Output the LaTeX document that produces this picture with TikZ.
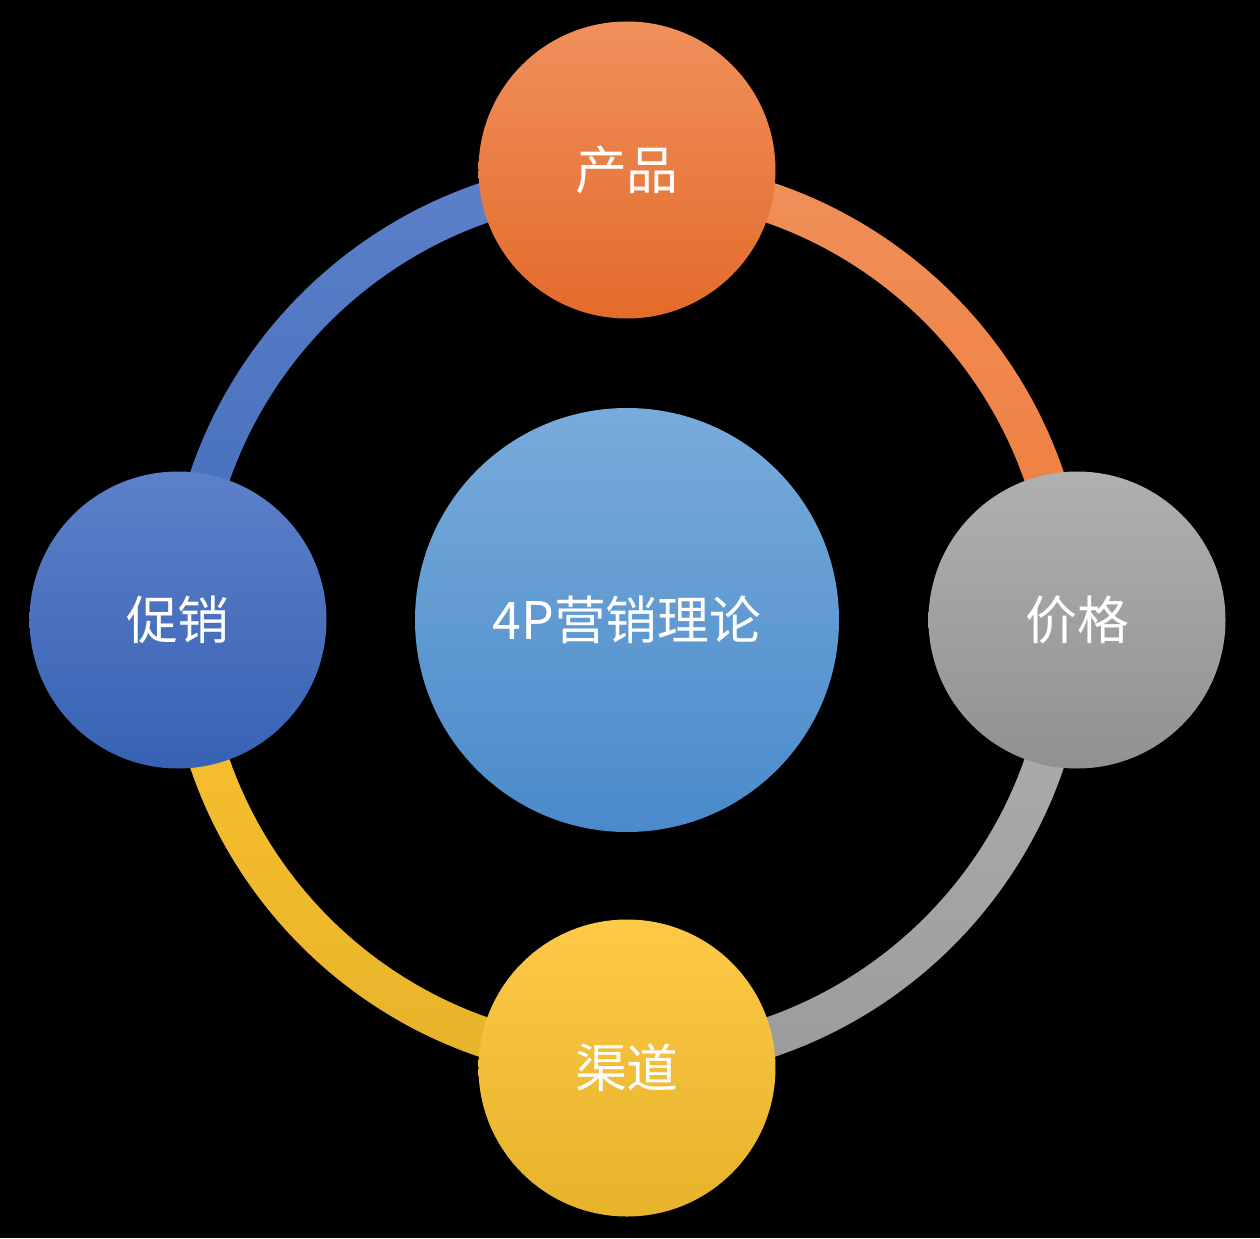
\documentclass[tikz,border=0pt]{standalone}
\usepackage{fontspec}
\setmainfont{Noto Sans CJK SC}
\definecolor{orangeA}{HTML}{F0905C}
\definecolor{orangeM}{HTML}{EF7B38}
\definecolor{orangeB}{HTML}{E36B2B}
\definecolor{blueA}{HTML}{78ABDB}
\definecolor{blueB}{HTML}{4A8ACA}
\definecolor{navyA}{HTML}{5D80C9}
\definecolor{navyM}{HTML}{4472C4}
\definecolor{navyB}{HTML}{3762B4}
\definecolor{greyA}{HTML}{B0B0B0}
\definecolor{greyB}{HTML}{919191}
\definecolor{goldA}{HTML}{FEC947}
\definecolor{goldM}{HTML}{FCC22E}
\definecolor{goldB}{HTML}{E6B32A}
\tikzset{
  petal/.style={
    circle,
    minimum size=5.94cm,
    inner sep=0mm,
    outer sep=0mm,
    text=white,
    font=\fontsize{29.5}{36}\selectfont
  },
  hub/.style={
    petal,
    minimum size=8.48cm
  },
  band/.style={
    draw=none
  }
}
\begin{document}
\begin{tikzpicture}
    \useasboundingbox[fill=black] (-12.54,-12.36) rectangle (12.66,12.4);
    % ring
    \shade[band,top color=orangeA,bottom color=orangeM] (0:9.22) arc (0:90:9.22) -- (90:8.42) arc (90:0:8.42) -- cycle;
    \shade[band,top color=greyA,bottom color=greyA!88!black] (270:9.22) arc (270:360:9.22) -- (0:8.42) arc (360:270:8.42) -- cycle;
    \shade[band,top color=goldM,bottom color=goldB] (180:9.22) arc (180:270:9.22) -- (270:8.42) arc (270:180:8.42) -- cycle;
    \shade[band,top color=navyA,bottom color=navyM!95!black] (90:9.22) arc (90:180:9.22) -- (180:8.42) arc (180:90:8.42) -- cycle;
    % circles
    \node[hub,top color=blueA,bottom color=blueB] (core) at (0,0) {4P营销理论};
    \node[petal,top color=orangeA,middle color=orangeM,bottom color=orangeB] (product) at (0,9.0) {产品};
    \node[petal,top color=greyA,bottom color=greyB] (price) at (9.0,0) {价格};
    \node[petal,top color=goldA,middle color=goldM,bottom color=goldB] (place) at (0,-8.96) {渠道};
    \node[petal,top color=navyA,middle color=navyM,bottom color=navyB] (promo) at (-8.98,0) {促销};
\end{tikzpicture}
\end{document}
